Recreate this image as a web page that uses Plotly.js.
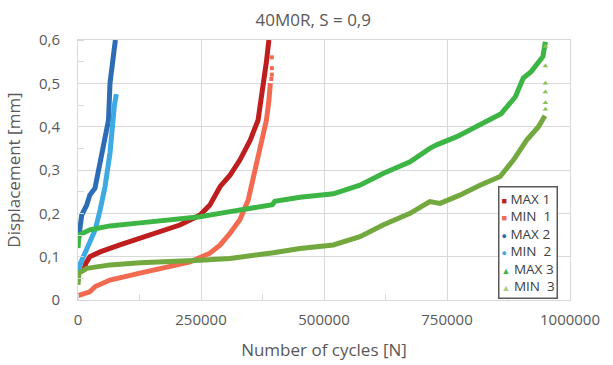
<!DOCTYPE html>
<html><head><meta charset="utf-8">
<script src="https://cdn.plot.ly/plotly-3.0.1.min.js"></script>
<style>html,body{margin:0;padding:0;background:#fff;}#c{width:613px;height:365px;}</style>
</head><body><div id="c"></div>
<script>
// Data
const seriesNames = ["MAX 1", "MIN\u00a0\u00a01", "MAX 2", "MIN\u00a0\u00a02", "MAX 3", "MIN\u00a0\u00a03"];

const max1X = [12000, 16000, 24000, 45000, 85000, 126000, 167000, 207000, 248000, 268000, 289000, 309000, 329000, 350000, 366000, 372000, 378000, 383000, 388000];
const max1Y = [0.07, 0.085, 0.1, 0.111, 0.127, 0.142, 0.158, 0.173, 0.196, 0.219, 0.262, 0.288, 0.323, 0.369, 0.415, 0.46, 0.5, 0.55, 0.6];

const min1X = [0, 10000, 24000, 35000, 65000, 126000, 187000, 228000, 268000, 289000, 309000, 329000, 346000, 360000, 373000, 383000, 388000, 391000];
const min1Y = [0.01, 0.015, 0.019, 0.031, 0.046, 0.062, 0.077, 0.088, 0.108, 0.127, 0.154, 0.185, 0.231, 0.3, 0.369, 0.415, 0.46, 0.5];
const min1TailX = [393000, 394000, 394000, 394000];
const min1TailY = [0.51, 0.52, 0.535, 0.56];

const max2X = [1000, 3000, 7500, 17700, 24000, 34500, 41000, 45000, 55000, 62000, 65000, 70000, 74000, 76000];
const max2Y = [0.14, 0.16, 0.196, 0.219, 0.242, 0.258, 0.296, 0.316, 0.377, 0.415, 0.5, 0.55, 0.59, 0.6];

const min2X = [0, 5000, 14000, 24000, 35000, 45000, 55000, 65000, 70000, 74000, 78000];
const min2Y = [0.06, 0.085, 0.108, 0.131, 0.162, 0.208, 0.262, 0.339, 0.415, 0.45, 0.475];

const max3X = [0, 2000, 24000, 65000, 126000, 187000, 248000, 309000, 370000, 395000, 400000, 451000, 519000, 573000, 620000, 675000, 715000, 729000, 770000, 810000, 835000, 860000, 889000, 905000, 921000, 945000, 950000];
const max3Y = [0.12, 0.15, 0.162, 0.171, 0.178, 0.185, 0.192, 0.204, 0.215, 0.22, 0.228, 0.237, 0.245, 0.265, 0.292, 0.319, 0.35, 0.358, 0.377, 0.4, 0.415, 0.43, 0.469, 0.512, 0.527, 0.562, 0.596];

const min3X = [0, 2000, 18000, 65000, 126000, 187000, 248000, 309000, 339000, 345000, 397000, 451000, 519000, 573000, 620000, 675000, 715000, 736000, 776000, 817000, 858000, 885000, 912000, 936000, 949000];
const min3Y = [0.035, 0.062, 0.073, 0.081, 0.086, 0.088, 0.092, 0.096, 0.1, 0.103, 0.109, 0.119, 0.127, 0.146, 0.173, 0.2, 0.227, 0.223, 0.242, 0.265, 0.285, 0.323, 0.369, 0.4, 0.425];
const min3TailX = [950000, 950000, 950000, 950000, 950000, 950000];
const min3TailY = [0.44, 0.455, 0.48, 0.5, 0.54, 0.585];

const xTickVals = [0, 250000, 500000, 750000, 1000000];
const xTickText = ["0", "250000", "500000", "750000", "1000000"];
const yTickVals = [0, 0.1, 0.2, 0.3, 0.4, 0.5, 0.6];
const yTickText = ["0", "0,1", "0,2", "0,3", "0,4", "0,5", "0,6"];

const colors = ["#BE1E1E", "#F26B50", "#2D6DB5", "#3DAAE3", "#3DB544", "#72A83E"];
const legendGlyphs = ["\u25A0", "\u25A0", "\u25CF", "\u25CF", "\u25B2", "\u25B2"];
const legendGlyphColors = ["#BE1E1E", "#F26B50", "#2D6DB5", "#3DAAE3", "#3DB544", "#A9CF78"];

const names = seriesNames;
const lineData = [[max1X, max1Y], [min1X, min1Y], [max2X, max2Y], [min2X, min2Y], [max3X, max3Y], [min3X, min3Y]];
const traces = [];
lineData.forEach((d, i) => {
  traces.push({x: d[0], y: d[1], type: 'scatter', mode: 'lines', name: names[i], line: {color: colors[i], width: 5, shape: 'linear'},
    showlegend: false, hoverinfo: 'skip'});
});
traces.push({x: min1TailX, y: min1TailY, type: 'scatter', mode: 'markers', name: names[1], marker: {color: colors[1], symbol: 'square', size: 4},
  showlegend: false});
traces.push({x: min3TailX, y: min3TailY, type: 'scatter', mode: 'markers', name: names[5], marker: {color: '#8CC05A', symbol: 'triangle-up', size: 5},
  showlegend: false});

// legend drawn as a bordered text box (real text), built from the series names and colours
const legendText = names.map((n, i) =>
  '<span style="color:' + legendGlyphColors[i] + ';font-size:9px">' + legendGlyphs[i] + '</span> ' + n).join('<br>');

const fontFam = 'Open Sans, sans-serif';
const grid = '#D9D9D9';
const layout = {
  width: 613, height: 365,
  margin: {l: 78, r: 43, t: 40, b: 65, pad: 0},
  paper_bgcolor: '#fff', plot_bgcolor: '#fff',
  font: {family: fontFam, color: '#595959', size: 14},
  title: {text: '40M0R, S = 0,9', x: 0.511, xanchor: 'center', y: 0.945, yanchor: 'middle', font: {size: 17, color: '#595959', family: fontFam}},
  xaxis: {range: [0, 1000000], tickvals: xTickVals, ticktext: xTickText, showgrid: true, gridcolor: grid, gridwidth: 1,
    zeroline: false, showline: true, linecolor: grid, linewidth: 1, mirror: true,
    ticks: 'outside', ticklen: 6, tickcolor: 'rgba(0,0,0,0)', tickfont: {size: 15, color: '#595959'},
    minor: {dtick: 125000, ticks: 'inside', ticklen: 6, tickcolor: grid, showgrid: false},
    title: {text: 'Number of cycles [N]', font: {size: 17, color: '#595959'}, standoff: 16}},
  yaxis: {range: [0, 0.6], tickvals: yTickVals, ticktext: yTickText, showgrid: true, gridcolor: grid, gridwidth: 1,
    zeroline: false, showline: true, linecolor: grid, linewidth: 1, mirror: true,
    ticks: 'outside', ticklen: 14, tickcolor: 'rgba(0,0,0,0)', tickfont: {size: 15, color: '#595959'},
    minor: {dtick: 0.05, ticks: 'inside', ticklen: 6, tickcolor: grid, showgrid: false},
    title: {text: 'Displacement [mm]', font: {size: 17, color: '#595959'}, standoff: 14}},
  showlegend: false,
  annotations: [{
    xref: 'paper', yref: 'paper', x: 0.854, y: 0.438, xanchor: 'left', yanchor: 'top',
    text: legendText, showarrow: false, align: 'left',
    font: {family: fontFam, size: 13.5, color: '#404040'},
    bgcolor: '#fff', bordercolor: '#595959', borderwidth: 1.5, borderpad: 2
  }]
};
Plotly.newPlot('c', traces, layout, {displayModeBar: false, staticPlot: true});
</script></body></html>
